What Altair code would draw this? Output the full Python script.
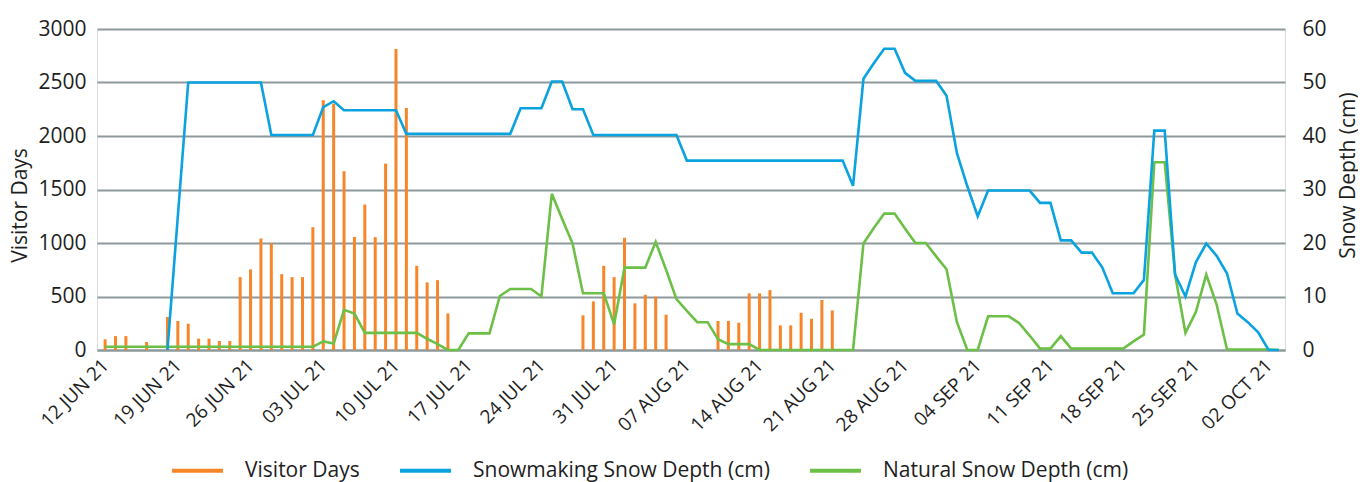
import altair as alt
import pandas as pd

# Day 0 = 12 Jun 2021, one value per day through 3 Oct 2021
START_YEAR, START_MONTH0, START_DAY = 2021, 5, 12
SERIES = ["Visitor Days", "Snowmaking Snow Depth (cm)", "Natural Snow Depth (cm)"]
COLORS = ["#F7862A", "#0AA3DF", "#6CBF47"]
TICK_DAYS = [0, 7, 14, 21, 28, 35, 42, 49, 56, 63, 70, 77, 84, 91, 98, 105, 112]

visitor_days = [
    100, 130, 130, None, 75, None, 308, 271, 246, 106,
    106, 84, 84, 681, 753, 1042, 996, 709, 681, 681,
    1148, 2334, 2302, 1671, 1055, 1360, 1055, 1742, 2813, 2262,
    787, 632, 653, 342, None, None, None, None, None, None,
    None, None, None, None, None, None, 324, 454, 787, 681,
    1049, 436, 516, 498, 330, None, None, None, None, 271,
    271, 255, 529, 529, 560, 230, 230, 348, 292, 467,
    370, None, None, None, None, None, None, None, None, None,
    None, None, None, None, None, None, None, None, None, None,
    None, None, None, None, None, None, None, None, None, None,
    None, None, None, None, None, None, None, None, None, None,
    None, None, None, None,
]

snowmaking = [
    None, None, None, None, None, None, 0, 25, 50, 50,
    50, 50, 50, 50, 50, 50, 40.2, 40.2, 40.2, 40.2,
    40.2, 45.4, 46.5, 44.8, 44.8, 44.8, 44.8, 44.8, 44.8, 40.4,
    40.4, 40.4, 40.4, 40.4, 40.4, 40.4, 40.4, 40.4, 40.4, 40.4,
    45.2, 45.2, 45.2, 50.2, 50.2, 45, 45, 40.2, 40.2, 40.2,
    40.2, 40.2, 40.2, 40.2, 40.2, 40.2, 35.4, 35.4, 35.4, 35.4,
    35.4, 35.4, 35.4, 35.4, 35.4, 35.4, 35.4, 35.4, 35.4, 35.4,
    35.4, 35.4, 30.7, 50.7, 53.6, 56.3, 56.3, 51.8, 50.3, 50.3,
    50.3, 47.5, 36.8, 30.6, 25, 29.8, 29.8, 29.8, 29.8, 29.8,
    27.5, 27.5, 20.5, 20.5, 18.2, 18.2, 15.4, 10.6, 10.6, 10.6,
    13.1, 41, 41, 14.1, 10, 16.4, 19.9, 17.6, 14.3, 6.8,
    5.2, 3.3, 0, 0,
]

natural = [
    0.6, 0.6, 0.6, 0.6, 0.6, 0.6, 0.6, 0.6, 0.6, 0.6,
    0.6, 0.6, 0.6, 0.6, 0.6, 0.6, 0.6, 0.6, 0.6, 0.6,
    0.6, 1.6, 1.2, 7.5, 6.8, 3.2, 3.2, 3.2, 3.2, 3.2,
    3.2, 2.1, 1.1, 0, 0, 3.1, 3.1, 3.1, 10.1, 11.4,
    11.4, 11.4, 10, 29.2, 24.5, 19.9, 10.6, 10.6, 10.6, 4.8,
    15.4, 15.4, 15.4, 20.2, 15, 9.5, 7.3, 5.2, 5.2, 2.0,
    1.1, 1.1, 1.1, 0, 0, 0, 0, 0, 0, 0,
    0, 0, 0, 19.9, 22.8, 25.5, 25.5, 22.7, 20, 20,
    17.5, 15.1, 5.2, 0, 0, 6.3, 6.3, 6.3, 5.0, 2.7,
    0.25, 0.25, 2.6, 0.25, 0.25, 0.25, 0.25, 0.25, 0.25, 1.6,
    2.9, 35.1, 35.1, 14.1, 3.2, 7.1, 14.1, 8.5, 0.1, 0.1,
    0.1, 0.1, 0.1, 0,
]

days = list(range(len(natural)))
rows = []
for d in days:
    rows.append({"day": d, "series": SERIES[0], "value": visitor_days[d]})
    rows.append({"day": d, "series": SERIES[1], "value": snowmaking[d]})
    rows.append({"day": d, "series": SERIES[2], "value": natural[d]})
df = pd.DataFrame(rows)

FONT = "Open Sans"
GRID = "#8E999B"
TXT = "#1E1E1E"

label_expr = (
    f"upper(utcFormat(utc({START_YEAR}, {START_MONTH0}, {START_DAY} + datum.value), '%d %b %y'))"
)

x_enc = alt.X(
    "day:Q",
    scale=alt.Scale(domain=[-0.3, 113.1], nice=False, zero=False),
    axis=alt.Axis(
        values=TICK_DAYS, labelExpr=label_expr, labelAngle=315, labelAlign="right",
        labelBaseline="middle", labelFontSize=19, labelColor=TXT, labelPadding=12,
        grid=False, ticks=False, domain=True, domainColor=GRID, domainWidth=2,
        title=None, labelFont=FONT, labelOverlap=False, labelFlush=False,
    ),
)

color_scale = alt.Scale(domain=SERIES, range=COLORS)

legend = alt.Legend(
    title=None, orient="none", direction="horizontal", legendX=90, legendY=431,
    symbolType="M-2.5,-0.2H2.5V0.2H-2.5Z", symbolSize=416, symbolStrokeWidth=0,
    labelFontSize=21, labelFont=FONT, labelColor=TXT, labelOffset=37,
    labelLimit=500, columnPadding=40, padding=0,
)

base = alt.Chart(df)

bars = base.transform_filter(
    f"datum.series == '{SERIES[0]}' && isValid(datum.value)"
).mark_bar(size=3).encode(
    x=x_enc,
    y=alt.Y(
        "value:Q",
        scale=alt.Scale(domain=[0, 3000], nice=False),
        axis=alt.Axis(
            title="Visitor Days", values=[0, 500, 1000, 1500, 2000, 2500, 3000],
            format="d",
            grid=True, gridColor=GRID, gridWidth=2, domain=False, ticks=False,
            labelFontSize=21, labelColor=TXT, labelPadding=11, labelFont=FONT,
            titleFontSize=21, titleFontWeight="normal", titleColor=TXT, titleFont=FONT,
            titlePadding=7, titleY=176,
        ),
    ),
    color=alt.Color("series:N", scale=color_scale, legend=legend),
)

lines = base.transform_filter(
    f"datum.series != '{SERIES[0]}' && isValid(datum.value)"
).mark_line(strokeWidth=2.6).encode(
    x=x_enc,
    y=alt.Y(
        "value:Q",
        scale=alt.Scale(domain=[0, 60], nice=False),
        axis=alt.Axis(
            title="Snow Depth (cm)", orient="right", values=[0, 10, 20, 30, 40, 50, 60],
            grid=False, domain=False, ticks=False, labelFontSize=21, labelColor=TXT,
            labelPadding=17, labelFont=FONT, titleFontSize=21, titleFontWeight="normal",
            titleColor=TXT, titleFont=FONT, titleAngle=270, titlePadding=32, titleY=146,
        ),
    ),
    color=alt.Color("series:N", scale=color_scale, legend=legend),
    detail="series:N",
)

chart = alt.layer(bars, lines).resolve_scale(y="independent").properties(
    width=1188, height=321,
    autosize=alt.AutoSizeParams(type="none"),
    padding={"left": 89, "top": 21, "right": 73, "bottom": 132},
).configure_view(stroke=None).configure(background="white")

chart.save("out.html", embed_options={"renderer": "svg", "actions": False})
